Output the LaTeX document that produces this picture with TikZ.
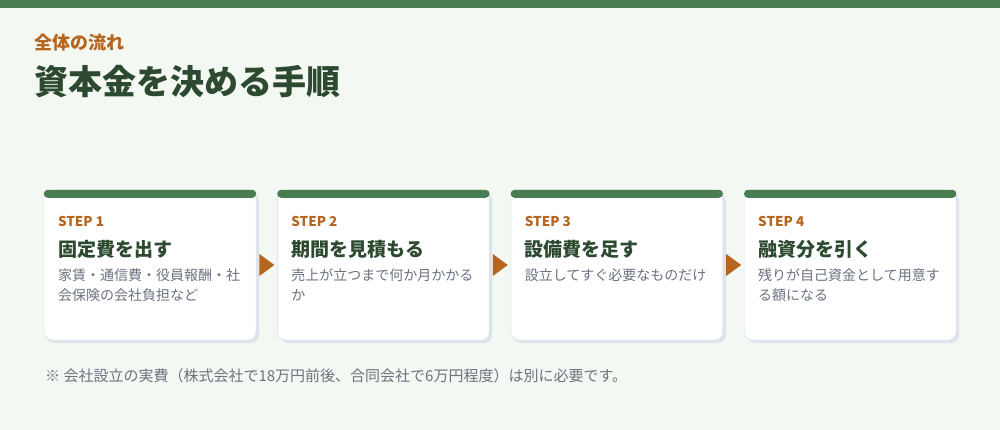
\documentclass[tikz,border=0pt]{standalone}
\usepackage{fontspec}
\setmainfont{Noto Sans CJK JP}
\usetikzlibrary{positioning}
\usetikzlibrary{shapes}
\usetikzlibrary{shadows}

\definecolor{leaf}{HTML}{4A7C52}
\definecolor{pine}{HTML}{2D4A30}
\definecolor{rust}{HTML}{B5651D}
\definecolor{slate}{HTML}{6B7280}
\definecolor{mist}{HTML}{F3F8F3}
\definecolor{edge}{HTML}{D3DCE5}
\definecolor{shade}{HTML}{DDE4EC}

\begin{document}
\begin{tikzpicture}[x=1pt, y=-1pt,
    card/.style={draw=edge, fill=white, rounded corners=8pt, inner sep=0pt,
        minimum width=212pt, minimum height=150pt,
        drop shadow={shadow xshift=3pt, shadow yshift=-3pt, fill=shade, opacity=1}},
    stepno/.style={anchor=west, inner sep=0pt, text=rust, font=\bfseries\fontsize{13.5}{15}\selectfont},
    stepttl/.style={anchor=west, inner sep=0pt, text=pine, font=\bfseries\fontsize{19}{21}\selectfont},
    stepdsc/.style={anchor=north west, inner sep=0pt, align=left, text=slate, font=\fontsize{14}{20}\selectfont},
    nextarr/.style={shape=isosceles triangle, isosceles triangle stretches, fill=rust,
        inner sep=0pt, minimum width=22pt, minimum height=15pt, right=3pt of #1}]

\useasboundingbox (0,0) rectangle (1000,430);
\fill[mist] (0,0) rectangle (1000,430);
\fill[leaf] (0,0) rectangle (1000,8);

\def \cardgap{21pt}

\node[anchor=west, inner sep=0pt, text=rust, font=\bfseries\fontsize{18}{20}\selectfont] (kicker) at (34,43) {全体の流れ};
\node[anchor=west, inner sep=0pt, text=pine, font=\bfseries\fontsize{34}{38}\selectfont] (title) at (34,82) {資本金を決める手順};

\node[card] (s1) at (150,265) {};
\node[card, right=\cardgap of s1] (s2) {};
\node[card, right=\cardgap of s2] (s3) {};
\node[card, right=\cardgap of s3] (s4) {};

\foreach \s in {s1,s2,s3,s4}
    \fill[leaf, rounded corners=4pt] (\s.north west) rectangle ([yshift=-8pt]\s.north east);

\node[nextarr=s1] (a1) {};
\node[nextarr=s2] (a2) {};
\node[nextarr=s3] (a3) {};

\node[stepno] (s1n) at ([xshift=14pt, yshift=-31.5pt]s1.north west) {STEP 1};
\node[stepttl] (s1t) at ([xshift=14pt, yshift=-60pt]s1.north west) {固定費を出す};
\node[stepdsc] (s1d) at ([xshift=14pt, yshift=-79pt]s1.north west) {家賃・通信費・役員報酬・社\\会保険の会社負担など};

\node[stepno] (s2n) at ([xshift=14pt, yshift=-31.5pt]s2.north west) {STEP 2};
\node[stepttl] (s2t) at ([xshift=14pt, yshift=-60pt]s2.north west) {期間を見積もる};
\node[stepdsc] (s2d) at ([xshift=14pt, yshift=-79pt]s2.north west) {売上が立つまで何か月かかる\\か};

\node[stepno] (s3n) at ([xshift=14pt, yshift=-31.5pt]s3.north west) {STEP 3};
\node[stepttl] (s3t) at ([xshift=14pt, yshift=-60pt]s3.north west) {設備費を足す};
\node[stepdsc] (s3d) at ([xshift=14pt, yshift=-79pt]s3.north west) {設立してすぐ必要なものだけ};

\node[stepno] (s4n) at ([xshift=14pt, yshift=-31.5pt]s4.north west) {STEP 4};
\node[stepttl] (s4t) at ([xshift=14pt, yshift=-60pt]s4.north west) {融資分を引く};
\node[stepdsc] (s4d) at ([xshift=14pt, yshift=-79pt]s4.north west) {残りが自己資金として用意す\\る額になる};

\node[anchor=west, inner sep=0pt, text=slate, font=\fontsize{15}{17}\selectfont] (note) at (45,376) {※ 会社設立の実費（株式会社で18万円前後、合同会社で6万円程度）は別に必要です。};

\end{tikzpicture}
\end{document}
